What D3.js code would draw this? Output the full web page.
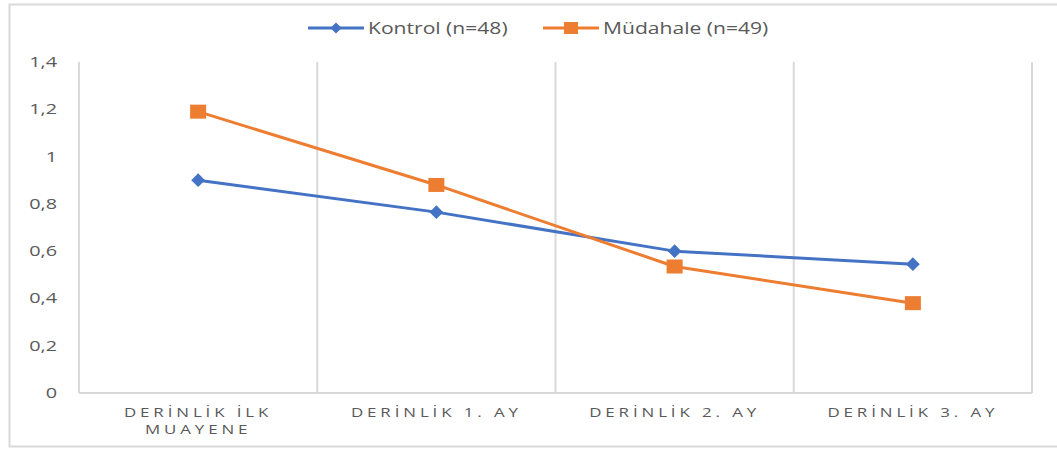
<!DOCTYPE html>
<html>
<head>
<meta charset="utf-8">
<script src="https://cdn.jsdelivr.net/npm/d3@7"></script>
<style>
  body { margin: 0; background: #fff; }
  svg { display: block; font-family: "Open Sans", "Liberation Sans", sans-serif; }
</style>
</head>
<body>
<svg id="chart" width="1057" height="450"></svg>
<script>
// Derinlik ölçümleri — kontrol ve müdahale gruplarının ortalamaları
const categories = [['DERİNLİK İLK', 'MUAYENE'], ['DERİNLİK 1. AY'], ['DERİNLİK 2. AY'], ['DERİNLİK 3. AY']];
const kontrol = [0.90, 0.765, 0.60, 0.545];
const mudahale = [1.19, 0.88, 0.535, 0.38];
const yTicks = [0, 0.2, 0.4, 0.6, 0.8, 1, 1.2, 1.4];
const seriesNames = ['Kontrol (n=48)', 'Müdahale (n=49)'];

const BLUE = '#4472C4', ORANGE = '#ED7D31', GRID = '#D9D9D9', TXT = '#595959';

const svg = d3.select('#chart');
const PAD = { left: 79, right: 1032, top: 62, bottom: 393 };

// texte étiré horizontalement autour de son point d'ancrage (rendu type Calibri élargi)
function stretch(sel, sx) {
  sel.each(function () {
    const ax = +this.getAttribute('x') || 0;
    d3.select(this).attr('transform', `translate(${ax},0) scale(${sx},1) translate(${-ax},0)`);
  });
}

// cadre extérieur
svg.append('rect')
  .attr('x', 9.5).attr('y', 4.5).attr('width', 1060).attr('height', 442)
  .attr('fill', 'none').attr('stroke', GRID).attr('stroke-width', 2);

const x = d3.scaleBand().domain(d3.range(categories.length)).range([PAD.left, PAD.right]);
const y = d3.scaleLinear().domain([0, 1.4]).range([PAD.bottom, PAD.top]);

// lignes verticales entre catégories
const bounds = [PAD.left].concat(d3.range(categories.length).map(i => x(i) + x.bandwidth()));
svg.append('g').selectAll('line').data(bounds).join('line')
  .attr('x1', d => d).attr('x2', d => d)
  .attr('y1', PAD.top).attr('y2', PAD.bottom)
  .attr('stroke', GRID).attr('stroke-width', 2);

svg.append('line')
  .attr('x1', PAD.left).attr('x2', PAD.right)
  .attr('y1', PAD.bottom).attr('y2', PAD.bottom)
  .attr('stroke', GRID).attr('stroke-width', 2);

// axe Y
const yAxis = svg.append('g').attr('transform', `translate(${PAD.left},0)`)
  .call(d3.axisLeft(y).tickValues(yTicks).tickSize(0).tickPadding(22)
    .tickFormat(d => String(d).replace('.', ',')));
yAxis.select('.domain').remove();
yAxis.selectAll('text').attr('fill', TXT).style('font-size', '14px').style('font-family', '"Open Sans", sans-serif');
stretch(yAxis.selectAll('text'), 1.42);

// libellés des catégories
const catG = svg.append('g').selectAll('text').data(categories).join('text')
  .attr('x', (d, i) => x(i) + x.bandwidth() / 2)
  .attr('y', 417)
  .attr('text-anchor', 'middle')
  .attr('fill', TXT)
  .style('font-size', '13px')
  .style('letter-spacing', '3px');
catG.selectAll('tspan').data(d => d).join('tspan')
  .attr('x', function () { return this.parentNode.getAttribute('x'); })
  .attr('dy', (d, i) => i === 0 ? 0 : 17)
  .text(d => d);
stretch(catG, 1.3);

const cx = i => x(i) + x.bandwidth() / 2;
const line = d3.line().x((d, i) => cx(i)).y(d => y(d));

svg.append('path').datum(kontrol).attr('d', line)
  .attr('fill', 'none').attr('stroke', BLUE).attr('stroke-width', 3).attr('stroke-linejoin', 'round');
svg.append('path').datum(mudahale).attr('d', line)
  .attr('fill', 'none').attr('stroke', ORANGE).attr('stroke-width', 3).attr('stroke-linejoin', 'round');

const diamond = d3.symbol().type(d3.symbolDiamond2).size(120);
svg.append('g').selectAll('path').data(kontrol).join('path')
  .attr('d', diamond)
  .attr('transform', (d, i) => `translate(${cx(i)},${y(d)})`)
  .attr('fill', BLUE);

svg.append('g').selectAll('rect').data(mudahale).join('rect')
  .attr('x', (d, i) => cx(i) - 8).attr('y', d => y(d) - 7)
  .attr('width', 16).attr('height', 14)
  .attr('fill', ORANGE);

// légende
const legend = svg.append('g');
const legItems = [
  { name: seriesNames[0], color: BLUE, x0: 308, shape: 'diamond' },
  { name: seriesNames[1], color: ORANGE, x0: 543, shape: 'square' }
];
legItems.forEach(it => {
  legend.append('line').attr('x1', it.x0).attr('x2', it.x0 + 56).attr('y1', 28).attr('y2', 28)
    .attr('stroke', it.color).attr('stroke-width', 3);
  if (it.shape === 'diamond') {
    legend.append('path').attr('d', d3.symbol().type(d3.symbolDiamond2).size(80))
      .attr('transform', `translate(${it.x0 + 28},28)`).attr('fill', it.color);
  } else {
    legend.append('rect').attr('x', it.x0 + 21).attr('y', 22).attr('width', 14).attr('height', 12).attr('fill', it.color);
  }
  const t = legend.append('text').attr('x', it.x0 + 60).attr('y', 34)
    .attr('fill', TXT).style('font-size', '15.5px').text(it.name);
  stretch(t, 1.36);
});
</script>
</body>
</html>
